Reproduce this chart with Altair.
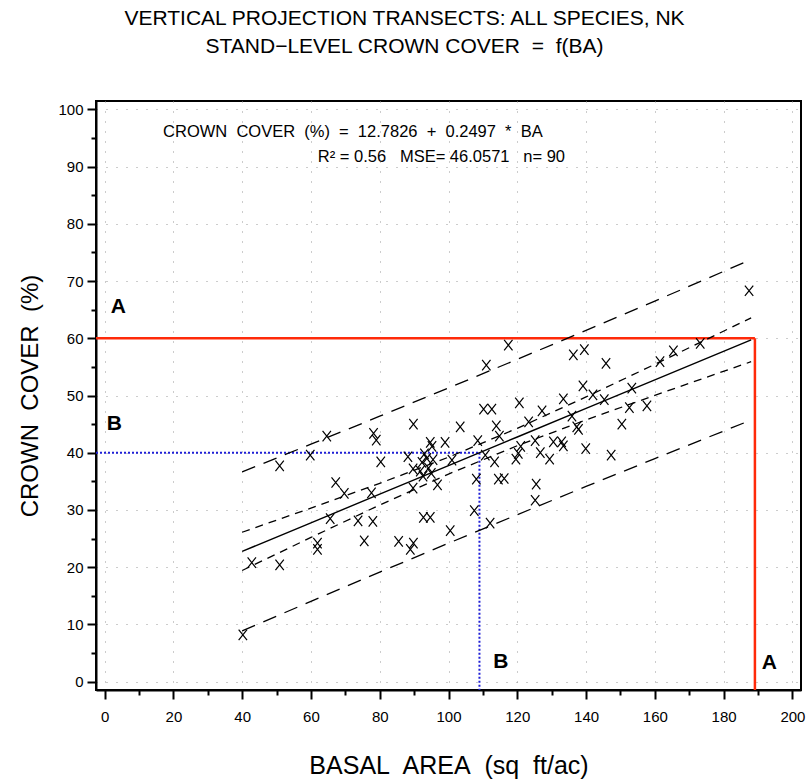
import altair as alt
import pandas as pd

# ---------------- data ----------------
ba = [40.2, 42.8, 50.9, 50.9, 59.8, 64.6, 61.9, 61.9, 65.6, 67.2,
      69.7, 73.7, 78.0, 75.5, 78.2, 79.0, 80.3, 77.6, 85.5, 89.8,
      88.9, 89.8, 88.2, 89.7, 89.7, 92.7, 94.7, 92.3, 93.7, 94.7,
      95.2, 92.6, 95.0, 96.8, 94.2, 99.0, 103.4, 100.5, 101.0, 107.5,
      108.1, 108.5, 110.7, 112.1, 113.9, 114.8, 113.4, 114.5, 116.2, 123.3,
      121.0, 120.3, 119.6, 125.2, 126.7, 129.4, 130.5, 132.9, 133.4, 125.5,
      125.2, 137.8, 139.9, 147.3, 150.4, 117.4, 111.0, 110.2, 112.6, 120.6,
      136.3, 139.5, 145.8, 161.5, 165.4, 173.2, 139.1, 142.0, 133.4, 145.3,
      153.3, 152.6, 157.7, 135.9, 137.3, 127.2, 187.4, 93.0, 95.5, 91.8]
cover = [8.2, 20.8, 20.4, 37.7, 39.6, 42.9, 24.2, 23.1, 28.5, 34.8,
         32.9, 28.1, 28.0, 24.6, 43.4, 42.2, 38.4, 33.0, 24.5, 24.2,
         23.1, 45.0, 39.3, 37.2, 33.8, 28.7, 28.7, 38.3, 39.0, 41.8,
         41.1, 35.9, 36.4, 34.4, 37.3, 41.8, 44.5, 26.4, 38.7, 29.9,
         35.4, 42.1, 39.6, 27.7, 44.7, 42.9, 38.4, 35.4, 35.5, 45.4,
         41.1, 39.9, 38.9, 42.1, 40.0, 38.9, 41.9, 41.9, 41.2, 34.5,
         31.7, 44.1, 40.7, 39.6, 45.0, 58.8, 55.3, 47.6, 47.6, 48.7,
         57.1, 58.0, 55.6, 55.9, 57.8, 59.1, 51.7, 50.1, 49.4, 49.3,
         51.3, 47.9, 48.2, 46.4, 44.5, 47.3, 68.3, 39.8, 38.8, 36.8]

band_x = [40, 60, 80, 100, 120, 140, 160, 188]
fit_y = [22.77, 27.76, 32.76, 37.75, 42.75, 47.74, 52.74, 59.73]
conf_upper = [26.11, 30.32, 34.65, 39.22, 44.27, 49.75, 55.45, 63.56]
conf_lower = [19.43, 25.20, 30.87, 36.28, 41.23, 45.73, 50.03, 55.90]
pred_upper = [36.66, 41.49, 46.38, 51.31, 56.32, 61.37, 66.50, 73.75]
pred_lower = [8.88, 14.03, 19.14, 24.19, 29.18, 34.11, 38.98, 45.71]

# reference read-offs: target cover -> basal area
ref_cover = [60, 40]
ref_ba = [189.1, 109.0]
ref_color = ["#ff2a0a", "#1f1fd6"]

letters = ["A", "B", "B", "A"]
letter_x = [4.0, 2.8, 115.2, 193.3]
letter_y = [65.5, 45.0, 3.4, 3.3]

eq_line1 = "CROWN\u00a0 COVER\u00a0 (%)\u00a0 =\u00a0 12.7826\u00a0 +\u00a0 0.2497\u00a0 *\u00a0 BA"
eq_line2 = "R\u00b2 = 0.56\u00a0\u00a0 MSE= 46.0571\u00a0\u00a0 n= 90"
eq_x = [17.0, 62.0]
eq_y = [96.0, 91.7]

title_lines = ["VERTICAL PROJECTION TRANSECTS: ALL SPECIES, NK",
               "STAND\u2212LEVEL CROWN COVER\u00a0 =\u00a0 f(BA)"]

X_DOM = [-2.5, 202.5]
Y_DOM = [-1.45, 101.45]
x_ticks = list(range(0, 201, 10))
y_ticks = list(range(0, 101, 5))

FONT = "Liberation Sans"

# ---------------- frames ----------------
pts = pd.DataFrame({"ba": ba, "cover": cover})
bands = pd.DataFrame({"ba": band_x, "fit": fit_y, "cu": conf_upper, "cl": conf_lower,
                      "pu": pred_upper, "pl": pred_lower})
hline = pd.DataFrame({"x0": [X_DOM[0]] * 2, "x1": ref_ba, "y": ref_cover, "c": ref_color})
vline = pd.DataFrame({"x": ref_ba, "y0": ref_cover, "y1": [Y_DOM[0]] * 2, "c": ref_color})
lab = pd.DataFrame({"t": letters, "x": letter_x, "y": letter_y})
eq = pd.DataFrame({"t": [eq_line1, eq_line2], "x": eq_x, "y": eq_y})

xaxis = alt.Axis(
    values=x_ticks,
    labelExpr="datum.value % 20 === 0 ? datum.label : ''",
    tickSize={"condition": {"test": "datum.value % 20 === 0", "value": 9}, "value": 5},
    gridOpacity={"condition": {"test": "datum.value % 20 === 0", "value": 1}, "value": 0},
    grid=True, gridDash=[1, 9], gridColor="#999999", gridWidth=1,
    labelOverlap=False, labelFlush=False, labelPadding=10,
    labelFontSize=15, titleFontSize=25,
    titleX=352.5, titleY=75, titleBaseline="middle", titleAlign="center",
)
yaxis = alt.Axis(
    values=y_ticks,
    labelExpr="datum.value % 10 === 0 ? datum.label : ''",
    tickSize={"condition": {"test": "datum.value % 10 === 0", "value": 9}, "value": 5},
    gridOpacity={"condition": {"test": "datum.value % 10 === 0", "value": 1}, "value": 0},
    grid=True, gridDash=[1, 9], gridColor="#999999", gridWidth=1,
    labelOverlap=False, labelFlush=False, labelPadding=4,
    labelFontSize=15, titleFontSize=24,
    titleX=-66, titleY=294.5, titleBaseline="middle", titleAlign="center",
)

xs = alt.Scale(domain=X_DOM, nice=False, zero=False)
ys = alt.Scale(domain=Y_DOM, nice=False, zero=False)


def X(field):
    return alt.X(field, type="quantitative", scale=xs, axis=xaxis,
                 title="BASAL\u00a0 AREA\u00a0 (sq\u00a0 ft/ac)")


def Y(field):
    return alt.Y(field, type="quantitative", scale=ys, axis=yaxis,
                 title="CROWN\u00a0 COVER\u00a0 (%)")


base_b = alt.Chart(bands)
fit = base_b.mark_line(color="black", strokeWidth=1.4).encode(x=X("ba"), y=Y("fit"))
cu = base_b.mark_line(color="black", strokeWidth=1.3, strokeDash=[8, 6]).encode(x=X("ba"), y=Y("cu"))
cl = base_b.mark_line(color="black", strokeWidth=1.3, strokeDash=[8, 6]).encode(x=X("ba"), y=Y("cl"))
pu = base_b.mark_line(color="black", strokeWidth=1.3, strokeDash=[14, 9]).encode(x=X("ba"), y=Y("pu"))
pl = base_b.mark_line(color="black", strokeWidth=1.3, strokeDash=[14, 9]).encode(x=X("ba"), y=Y("pl"))

scatter = alt.Chart(pts).mark_point(
    shape="M-0.8,-1L0.8,1M-0.8,1L0.8,-1", filled=False, size=110,
    color="black", strokeWidth=1.2, opacity=1,
).encode(x=X("ba"), y=Y("cover"))

h_red = alt.Chart(hline.iloc[[0]]).mark_rule(strokeWidth=2.5).encode(
    x=X("x0"), x2="x1", y=Y("y"), color=alt.Color("c:N", scale=None))
v_red = alt.Chart(vline.iloc[[0]]).mark_rule(strokeWidth=2.5).encode(
    x=X("x"), y=Y("y0"), y2="y1", color=alt.Color("c:N", scale=None))
h_blue = alt.Chart(hline.iloc[[1]]).mark_rule(strokeWidth=2, strokeDash=[2, 2]).encode(
    x=X("x0"), x2="x1", y=Y("y"), color=alt.Color("c:N", scale=None))
v_blue = alt.Chart(vline.iloc[[1]]).mark_rule(strokeWidth=2, strokeDash=[2, 2]).encode(
    x=X("x"), y=Y("y0"), y2="y1", color=alt.Color("c:N", scale=None))

letters_l = alt.Chart(lab).mark_text(font=FONT, fontSize=21, fontWeight="bold",
                                     color="black", align="center", baseline="middle").encode(
    x=X("x"), y=Y("y"), text="t:N")
eq_l = alt.Chart(eq).mark_text(font=FONT, fontSize=16.5, color="black",
                               align="left", baseline="middle").encode(
    x=X("x"), y=Y("y"), text="t:N")

chart = alt.layer(
    h_red, v_red, h_blue, v_blue, pu, pl, cu, cl, fit, scatter, letters_l, eq_l
).properties(
    width=705, height=589,
    autosize=alt.AutoSizeParams(type="none"),
    padding={"left": 96, "top": 101, "right": 6, "bottom": 92},
    title=alt.TitleParams(text=title_lines, font=FONT, fontSize=21, fontWeight="normal",
                          color="black", anchor="middle", dx=-44, offset=44, lineHeight=28),
).configure_view(
    stroke="black", strokeWidth=2
).configure_axis(
    domainColor="black", domainWidth=2, tickColor="black", tickWidth=2,
    labelColor="black", titleColor="black", labelFont=FONT, titleFont=FONT,
    titleFontWeight="normal",
)

chart.save("out.html", embed_options={"renderer": "svg", "actions": False})
